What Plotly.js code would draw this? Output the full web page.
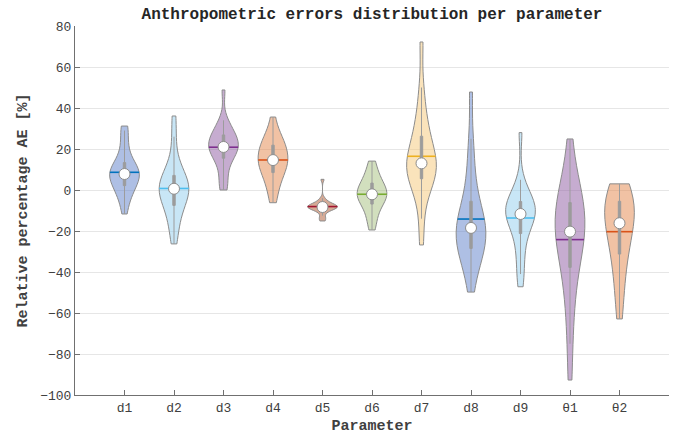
<!DOCTYPE html>
<html><head><meta charset="utf-8">
<script src="https://cdn.plot.ly/plotly-3.0.1.min.js"></script>
<style>body{margin:0;padding:0;background:#fff}#chart{width:681px;height:441px}
#chart .violinlayer path{stroke-dasharray:none !important}</style>
</head><body><div id="chart"></div>
<script>
const categories = ['d1','d2','d3','d4','d5','d6','d7','d8','d9','θ1','θ2'];

const d1 = [-11.7,-6,-3,-1,1,2.5,4,5,6,7,7.8,8.5,9.5,10.5,11.5,13,14.5,19,23,29,31.2];
const d2 = [-26.3,-20,-16,-12,-9,-7,-5,-3.5,-2,-1,0.6,1.5,2.5,3.5,5,6.5,9,11,16,26,36.1];
const d3 = [0,2,6,11,14,16,17.5,19,20,20.5,21,22,23,24,25,26.5,28,29,31,34,48.8];
const d4 = [-6.2,-2,2,5,7,9,10.5,12,13,14,14.6,15.5,17,18.5,20,21.5,23,24.5,25,28,35.6];
const d5 = [-15.1,-14,-12.5,-10.5,-10,-9.5,-9,-8.7,-8.5,-8.3,-8.3,-8,-7.7,-7.3,-7,-7,-6,-5.5,-4,5.2];
const d6 = [-19.5,-16,-13,-10,-8,-6.5,-5,-4,-3,-2.5,-2.1,-1.5,-0.5,0.5,1.5,3,4.5,5.5,8,11,14.1];
const d7 = [-26.8,-14,-3,2,4,6,8,9.5,11,12,13,14.5,17,20,22,25,30,33,40,50,72.2];
const d8 = [-49.8,-40,-35,-33,-30,-28,-26,-24,-22,-20,-18.5,-17,-15,-13,-10,-7,-1,5,14,25,47.8];
const d9 = [-47.2,-41,-35,-29,-25,-20,-17.5,-16,-14.5,-13,-11.7,-10.5,-9.5,-8.5,-7.5,-6,-4.5,-2.5,-1,5,28];
const t1 = [-92.7,-75,-62,-52,-45,-39,-34,-30,-27,-24,-22,-20.3,-18,-15.5,-13,-10.5,-8,-5.5,-3,0,4,11,24.9];
const t2 = [-62.9,-54,-46,-40,-35,-30,-27,-24,-20,-18,-16.2,-14,-12,-10,-8,-6,-4,-3,0,0,3];

const seriesData = [d1,d2,d3,d4,d5,d6,d7,d8,d9,t1,t2];

const fillColors = ['rgba(93,127,201,0.5)','rgba(145,205,237,0.5)','rgba(141,89,161,0.5)','rgba(227,133,73,0.5)',
  'rgba(173,85,45,0.5)','rgba(165,191,125,0.5)','rgba(245,199,119,0.5)','rgba(93,127,201,0.5)',
  'rgba(145,205,237,0.5)','rgba(141,89,161,0.5)','rgba(227,133,73,0.5)'];
const meanColors = ['#0072BD','#4DBEEE','#7E2F8E','#D95319','#A2142F','#77AC30','#EDB120','#0072BD','#4DBEEE','#7E2F8E','#D95319'];

function median(a){const s=[...a].sort((p,q)=>p-q);const n=s.length;return n%2?s[(n-1)/2]:(s[n/2-1]+s[n/2])/2;}

const traces = [];
seriesData.forEach((arr,i)=>{
  const xs = arr.map(()=>i+1);
  traces.push({type:'violin', x:xs, y:arr, spanmode:'hard', scalemode:'width', width:0.6, points:false,
    fillcolor:fillColors[i], line:{color:'#8c8c8c', width:1},
    meanline:{visible:true, color:meanColors[i], width:1.6},
    box:{visible:false}, hoverinfo:'skip', showlegend:false});
  traces.push({type:'violin', x:xs, y:arr, spanmode:'hard', scalemode:'width', width:0.6, points:false,
    fillcolor:'rgba(0,0,0,0)', line:{color:'rgba(0,0,0,0)', width:0},
    meanline:{visible:false},
    box:{visible:true, width:0.08, fillcolor:'#9c9c9c', line:{color:'#9c9c9c', width:1}},
    hoverinfo:'skip', showlegend:false});
});
traces.push({type:'scatter', mode:'markers', x:categories.map((c,i)=>i+1), y:seriesData.map(median),
  marker:{size:11, color:'#ffffff', line:{color:'#8c8c8c', width:1}}, hoverinfo:'skip', showlegend:false});

const font = 'Liberation Mono, Courier New, monospace';
const layout = {
  width:681, height:441,
  margin:{l:75, r:12, t:26, b:46, pad:0},
  paper_bgcolor:'#ffffff', plot_bgcolor:'#ffffff',
  font:{family:font, size:13, color:'#404040'},
  violinmode:'overlay',
  title:{text:'<b>Anthropometric errors distribution per parameter</b>', x:0.5, xref:'paper',
    y:1-13/441, yref:'container', yanchor:'middle', font:{family:font, size:16, color:'#262626'}},
  xaxis:{range:[0,12], tickmode:'array', tickvals:categories.map((c,i)=>i+1), ticktext:categories,
    ticks:'inside', ticklen:5, tickcolor:'#707070', showline:true, linecolor:'#707070', linewidth:1,
    showgrid:false, zeroline:false, tickfont:{family:font, size:13, color:'#404040'},
    title:{text:'<b>Parameter</b>', font:{family:font, size:15, color:'#404040'}, standoff:4}},
  yaxis:{range:[-100,80], tickmode:'linear', tick0:0, dtick:20,
    ticks:'inside', ticklen:5, tickcolor:'#707070', showline:true, linecolor:'#707070', linewidth:1,
    showgrid:true, gridcolor:'#e6e6e6', gridwidth:1, zeroline:false,
    tickfont:{family:font, size:13, color:'#404040'},
    title:{text:'<b>Relative percentage AE [%]</b>', font:{family:font, size:15, color:'#404040'}, standoff:8}}
};
Plotly.newPlot('chart', traces, layout, {staticPlot:true, displayModeBar:false});
</script></body></html>
